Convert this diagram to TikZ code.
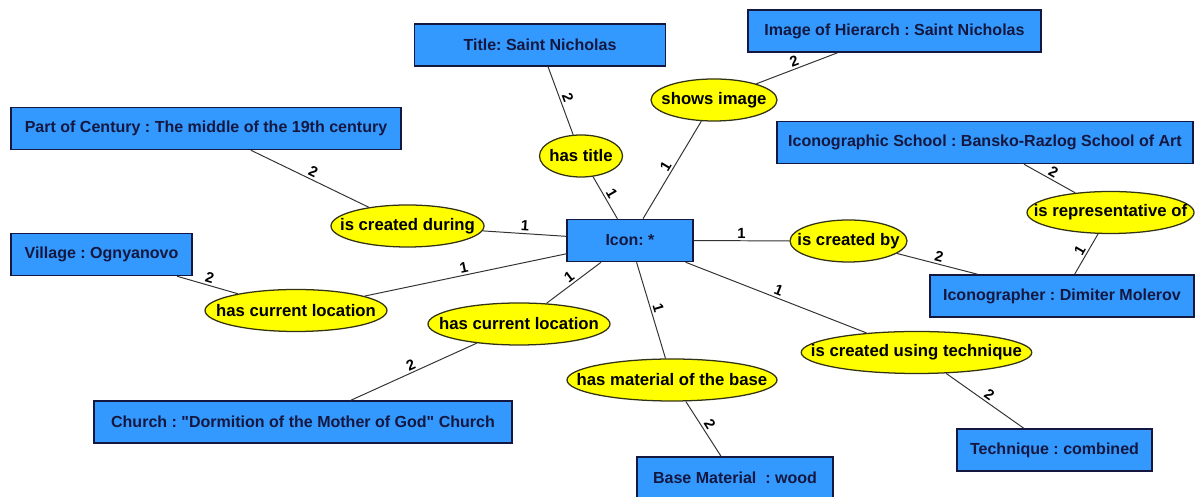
\documentclass[tikz,border=0pt]{standalone}
\usepackage{fontspec}
\setmainfont{Liberation Sans}
\frenchspacing
\usetikzlibrary{shapes.geometric}
\definecolor{entblue}{RGB}{51,153,255}
\definecolor{entnavy}{RGB}{20,24,64}
\definecolor{relyellow}{RGB}{255,255,0}
\definecolor{reledge}{RGB}{50,50,20}

\begin{document}
\begin{tikzpicture}[
    every node/.style={font=\bfseries\fontsize{11.4}{13}\selectfont},
    entity/.style={draw=entnavy, line width=1.1pt, fill=entblue, text=entnavy, minimum height=1.05cm},
    relation/.style={ellipse, draw=reledge, line width=0.9pt, fill=relyellow, minimum height=1.05cm, inner xsep=-0.6cm, inner ysep=0pt, font=\bfseries\fontsize{11.9}{13}\selectfont},
    mult/.style={font=\bfseries\fontsize{10.5}{12}\selectfont, sloped, above, inner sep=1.5pt},
    link/.style={draw=black!80, line width=0.7pt}]
    \useasboundingbox (0,0) rectangle (29.875,12.425);

    % Entities
    \node[entity, minimum width=6.275cm] (title) at (13.5, 11.3) {Title: Saint Nicholas};
    \node[entity, minimum width=7.325cm] (image) at (22.3625, 11.65) {Image of Hierarch : Saint Nicholas};
    \node[entity, minimum width=9.75cm] (century) at (5.15, 9.2125) {Part of Century : The middle of the 19th century};
    \node[entity, minimum width=10.4cm] (school) at (24.625, 8.8625) {Iconographic School : Bansko-Razlog School of Art};
    \node[entity, minimum width=3.15cm] (icon) at (15.75, 6.4125) {Icon: *};
    \node[entity, minimum width=4.525cm] (village) at (2.5375, 6.0625) {Village : Ognyanovo};
    \node[entity, minimum width=6.6cm] (painter) at (26.55, 5.025) {Iconographer : Dimiter Molerov};
    \node[entity, minimum width=10.45cm] (church) at (7.575, 1.875) {Church : \textquotedbl Dormition of the Mother of God\textquotedbl{} Church};
    \node[entity, minimum width=4.875cm] (technique) at (26.3625, 1.175) {Technique : combined};
    \node[entity, minimum width=4.9cm] (base) at (18.375, 0.475) {Base Material~~: wood};

    % Relations
    \node[relation, minimum width=2.075cm] (hastitle) at (14.525, 8.525) {has title};
    \node[relation, minimum width=3.15cm] (showsimage) at (17.85, 9.925) {shows image};
    \node[relation, minimum width=3.825cm] (during) at (10.1875, 6.775) {is created during};
    \node[relation, minimum width=4.55cm] (locvillage) at (7.4, 4.6625) {has current location};
    \node[relation, minimum width=4.55cm] (locchurch) at (12.975, 4.325) {has current location};
    \node[relation, minimum width=5.25cm] (material) at (16.8, 2.925) {has material of the base};
    \node[relation, minimum width=2.925cm] (createdby) at (21.2125, 6.4) {is created by};
    \node[relation, minimum width=5.625cm] (usingtech) at (22.9125, 3.6125) {is created using technique};
    \node[relation, minimum width=4.175cm] (represents) at (27.7625, 7.1125) {is representative of};

    % Links with multiplicities
    \foreach \rel/\ent/\m in {hastitle/icon/1, hastitle/title/2, showsimage/icon/1, showsimage/image/2,
        during/icon/1, during/century/2, locvillage/icon/1, locvillage/village/2,
        locchurch/icon/1, locchurch/church/2, material/icon/1, material/base/2,
        createdby/icon/1, createdby/painter/2, usingtech/icon/1, usingtech/technique/2,
        represents/painter/1, represents/school/2} {
        \draw[link] (\rel) -- node[mult] {\m} (\ent);
    }
\end{tikzpicture}
\end{document}
